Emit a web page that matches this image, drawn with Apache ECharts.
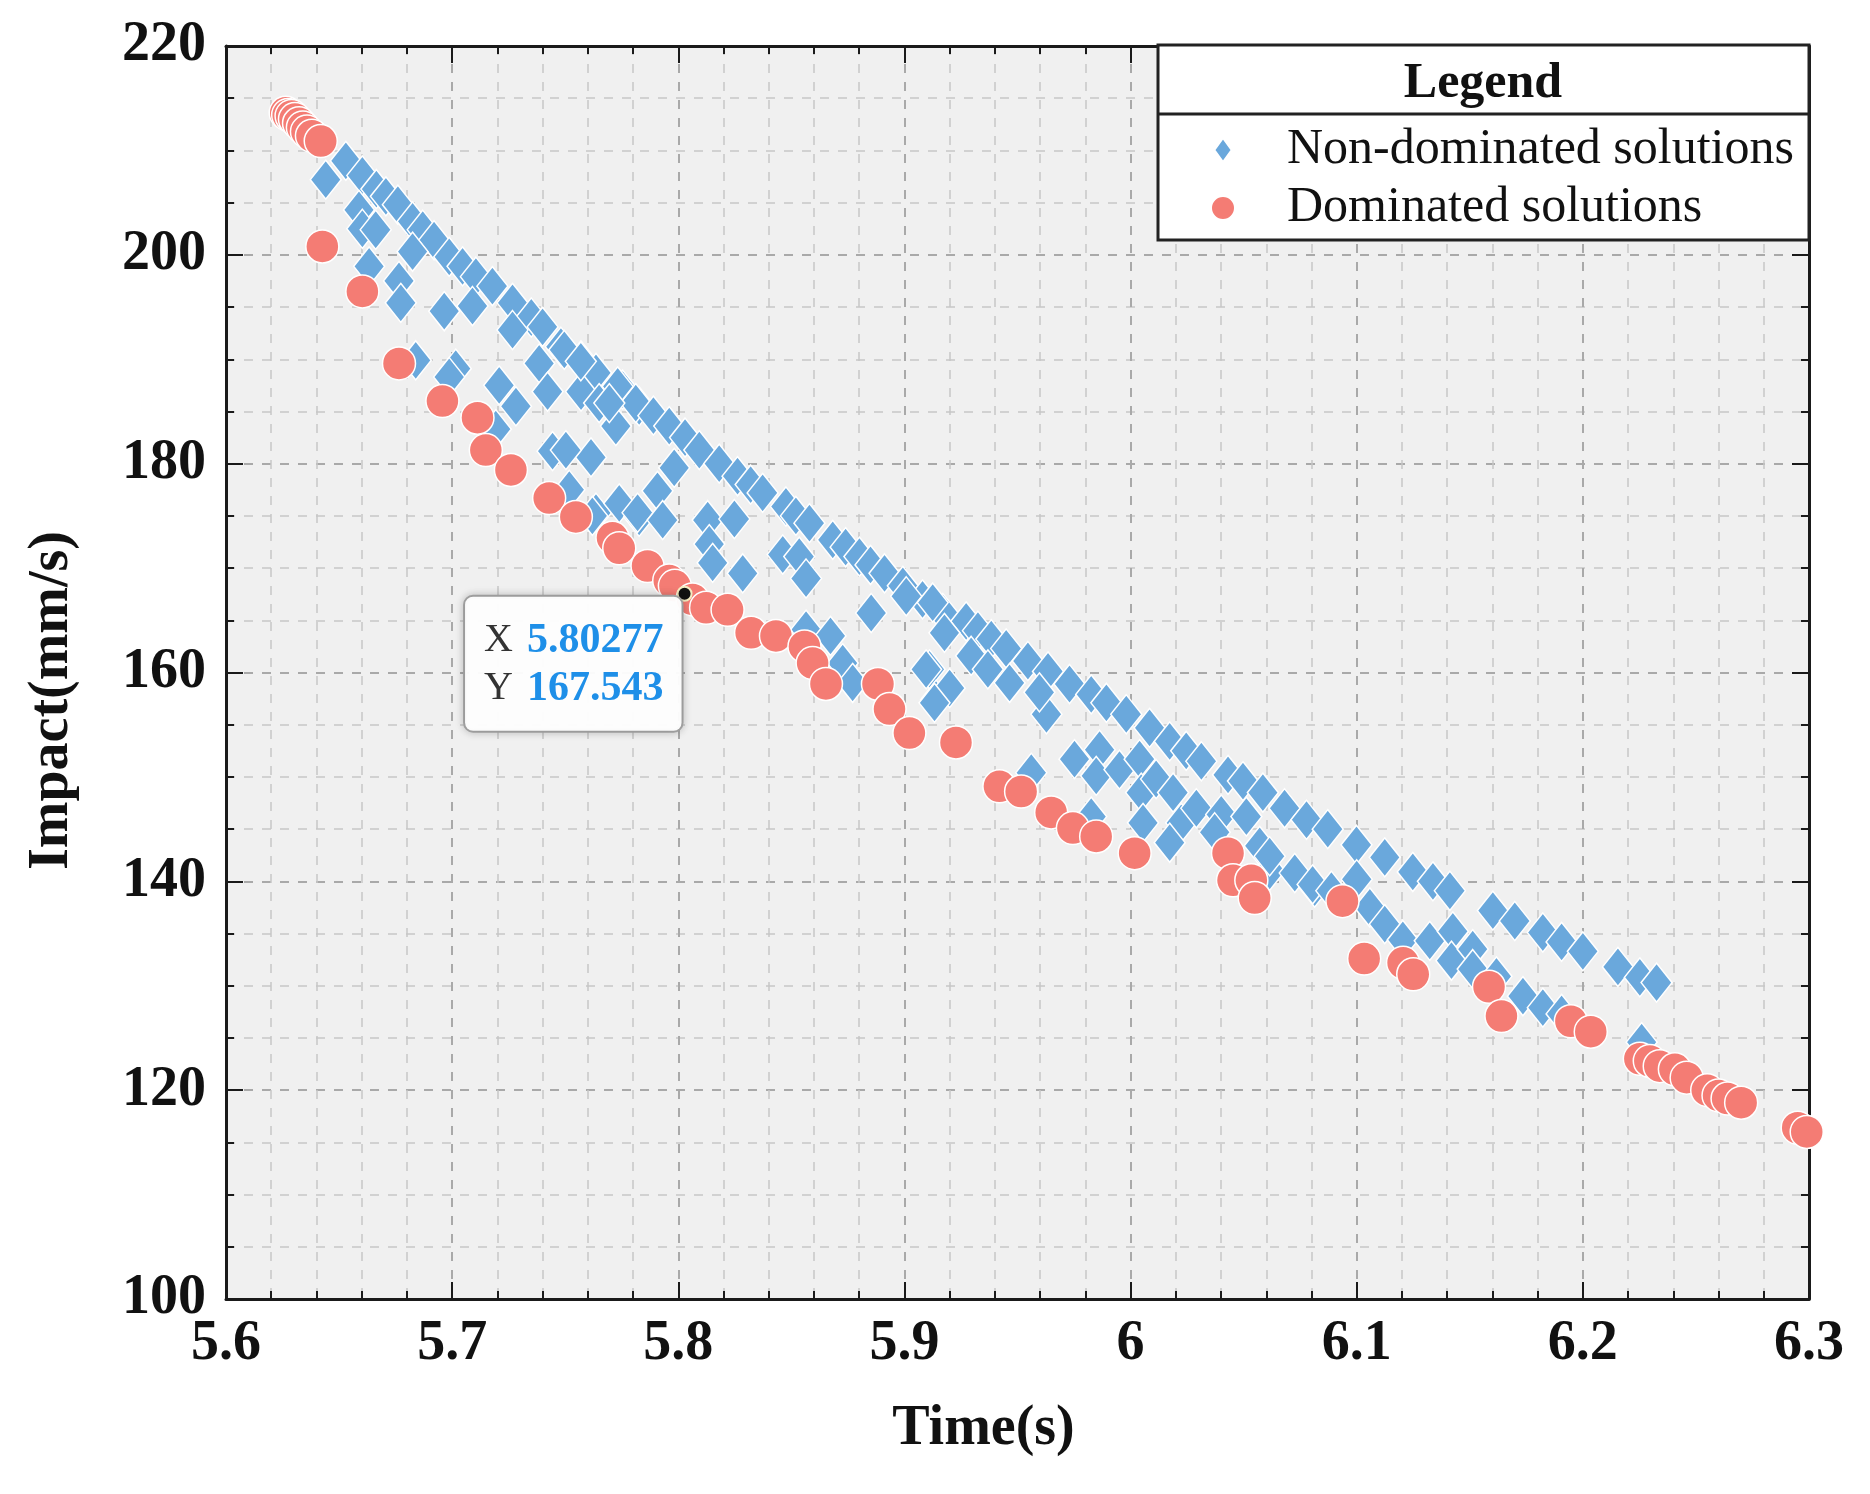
<!DOCTYPE html>
<html>
<head>
<meta charset="utf-8">
<script src="https://cdn.jsdelivr.net/npm/echarts@6/dist/echarts.min.js"></script>
<style>
html,body{margin:0;padding:0;background:#fff;}
#chart{width:1870px;height:1494px;}
</style>
</head>
<body>
<div id="chart"></div>
<script>
const xTicks = [5.6, 5.7, 5.8, 5.9, 6.0, 6.1, 6.2, 6.3];
const yTicks = [100, 120, 140, 160, 180, 200, 220];
const seriesNames = ['Non-dominated solutions', 'Dominated solutions'];
const tipPoint = [5.80277, 167.543];

const nonDominated = [
[5.6441,207.2],[5.653,209.0],[5.6603,207.6],[5.6665,206.3],[5.6707,205.6],[5.676,204.8],[5.6825,203.2],[5.687,202.4],[5.692,201.4],[5.6987,199.8],[5.7046,198.9],[5.7105,197.9],[5.7178,197.0],[5.7267,195.4],[5.735,194.0],[5.74,193.1],[5.7481,191.2],[5.757,189.9],[5.7636,188.7],[5.7754,187.1],[5.7827,185.5],
[5.6588,204.3],[5.6603,202.5],[5.6662,202.4],[5.6825,200.3],[5.6633,198.9],[5.6765,197.5],[5.6773,195.4],[5.6965,194.6],[5.709,195.1],[5.7267,192.8],[5.7385,189.6],[5.7422,186.9],[5.757,186.9],[5.765,185.8],[5.7724,183.6],[5.7812,185.8],[5.6839,189.9],[5.7016,189.1],[5.6987,188.3],[5.7208,187.5],[5.7282,185.5],[5.7193,183.3],[5.7444,181.2],[5.7614,180.6],[5.7518,177.5],[5.7636,175.3],[5.7739,176.2],[5.7827,174.9],
[5.7496,190.9],[5.7569,189.8],[5.7732,187.4],[5.789,184.6],[5.796,183.6],[5.803,182.5],[5.8093,181.3],[5.8181,180.0],[5.8262,178.8],[5.832,178.0],[5.8373,177.2],[5.8476,175.9],[5.852,175.0],[5.858,174.3],[5.8683,172.7],[5.874,172.0],[5.8801,171.1],[5.885,170.3],[5.8912,169.5],[5.8993,168.3],[5.908,167.0],[5.917,165.7],
[5.7695,185.8],[5.7503,181.3],[5.7982,179.6],[5.782,175.3],[5.7908,177.4],[5.7931,174.6],[5.813,174.6],[5.8248,174.7],[5.8137,172.3],[5.8152,170.5],[5.8285,169.5],[5.8462,171.3],[5.8535,171.1],[5.8565,169.0],[5.8853,165.7],[5.8565,164.1],[5.8673,163.5],[5.8727,160.9],[5.8771,159.0],[5.9111,160.3],[5.914,157.4],[5.762,175.0],
[5.9008,167.3],[5.9125,166.7],[5.9273,164.9],[5.9325,164.0],[5.9384,163.2],[5.945,162.3],[5.9546,161.1],[5.9635,160.1],[5.973,158.9],[5.9826,157.9],[5.9893,157.1],[5.9981,156.0],[6.0084,154.7],[6.0173,153.4],[6.0246,152.5],[6.0313,151.5],[6.0431,150.2],[6.0497,149.6],[6.0585,148.5],[6.0681,147.0],[6.0778,145.9],
[5.9177,163.8],[5.9096,160.3],[5.92,158.5],[5.9133,157.1],[5.9295,161.6],[5.9369,160.3],[5.9465,159.0],[5.9628,156.0],[5.9561,150.4],[5.9597,158.1],[5.9752,151.7],[5.9863,152.6],[5.9848,150.1],[5.9951,150.7],[6.004,151.7],[6.0047,148.5],[6.0113,149.8],[6.0055,145.6],[6.0188,148.5],[6.0224,145.6],[6.0173,143.7],[6.0291,147.0],[6.0401,146.4],[6.0512,146.2],[6.0571,143.4],[6.0615,141.0],[6.0726,140.8],[6.0814,139.4],[5.9826,146.2],[6.0372,144.7],
[6.0872,145.0],[6.0999,143.5],[6.1124,142.3],[6.1248,140.9],[6.1337,140.0],[6.1412,139.1],[6.1602,137.2],[6.1699,136.2],[6.1823,135.1],[6.1906,134.2],[6.2,133.3],[6.2155,131.8],[6.2252,130.8],[6.2326,130.3],
[6.0615,142.4],[6.0805,139.7],[6.0888,139.1],[6.1,140.2],[6.1058,137.5],[6.1124,135.9],[6.1204,134.4],[6.1323,134.3],[6.1425,135.2],[6.1419,132.4],[6.1513,133.5],[6.1513,131.6],[6.1618,130.9],[6.1735,129.0],[6.1823,127.9],[6.1906,127.3],[6.226,124.6]
];

const dominated = [
[5.6264,213.6],[5.6275,213.4],[5.629,213.3],[5.6305,213.0],[5.6323,212.6],[5.634,212.2],[5.6358,211.8],[5.638,211.4],[5.6419,210.9],[5.6426,200.8],[5.6603,196.5],[5.6765,189.6],[5.6957,186.0],[5.7112,184.4],[5.7149,181.3],[5.726,179.4],[5.7429,176.7],[5.7547,174.9],[5.7709,172.9],[5.7739,171.9],[5.7864,170.2],[5.796,168.8],[5.7985,168.3],[5.8063,167.0],[5.8123,166.2],[5.8218,166.0],[5.8322,163.8],[5.8432,163.5],[5.8558,162.5],[5.8594,160.9],[5.8653,158.9],[5.8883,158.9],[5.8934,156.5],[5.9022,154.2],[5.9228,153.3],[5.942,149.1],[5.9516,148.6],[5.9649,146.6],[5.9745,145.1],[5.9848,144.3],[6.0018,142.7],[6.0431,142.7],[6.0453,140.1],[6.0534,140.1],[6.0549,138.4],[6.0937,138.1],[6.1033,132.6],[6.1205,132.2],[6.125,131.1],[6.1585,129.9],[6.164,127.1],[6.1947,126.6],[6.2035,125.6],[6.2252,123.0],[6.2296,122.8],[6.234,122.3],[6.2407,122.0],[6.2459,121.2],[6.255,120.0],[6.26,119.5],[6.264,119.2],[6.27,118.8],[6.295,116.4],[6.299,116.0]
];

const FONT = "'Liberation Serif','Times New Roman',serif";
const chart = echarts.init(document.getElementById('chart'), null, {renderer: 'canvas'});

const axisCommonX = {
  type: 'value', min: xTicks[0], max: xTicks[xTicks.length - 1], interval: 0.1,
  axisLine: {show: true, onZero: false, lineStyle: {color: '#1a1a1a', width: 3}},
  axisTick: {show: true, inside: true, length: 17, lineStyle: {color: '#1a1a1a', width: 2}},
  minorTick: {show: true, splitNumber: 5, length: 8, lineStyle: {color: '#1a1a1a', width: 2}}
};
const axisCommonY = {
  type: 'value', min: yTicks[0], max: yTicks[yTicks.length - 1], interval: 20,
  axisLine: {show: true, onZero: false, lineStyle: {color: '#1a1a1a', width: 3}},
  axisTick: {show: true, inside: true, length: 17, lineStyle: {color: '#1a1a1a', width: 2}},
  minorTick: {show: true, splitNumber: 4, length: 8, lineStyle: {color: '#1a1a1a', width: 2}}
};

const option = {
  backgroundColor: '#ffffff',
  animation: false,
  grid: {left: 226, right: 61, top: 46, bottom: 195, show: true, backgroundColor: '#f0f0f0', borderWidth: 0},
  xAxis: [
    Object.assign({}, axisCommonX, {
      position: 'bottom',
      name: 'Time(s)', nameLocation: 'middle', nameGap: 103,
      nameTextStyle: {fontFamily: FONT, fontSize: 56, fontWeight: 'bold', color: '#111', padding: [0, 68, 0, 0]},
      axisLabel: {show: true, margin: 18, fontFamily: FONT, fontSize: 56, fontWeight: 'bold', color: '#111',
        formatter: v => String(Math.round(v * 10) / 10)},
      splitLine: {show: true, lineStyle: {color: '#a9a9a9', width: 2, type: [9, 9]}},
      minorSplitLine: {show: true, lineStyle: {color: '#c6c6c6', width: 1.5, type: [9, 9]}}
    }),
    Object.assign({}, axisCommonX, {
      position: 'top', axisLabel: {show: false}, splitLine: {show: false}, minorSplitLine: {show: false}
    })
  ],
  yAxis: [
    Object.assign({}, axisCommonY, {
      position: 'left',
      name: 'Impact(mm/s)', nameLocation: 'middle', nameGap: 145,
      nameTextStyle: {fontFamily: FONT, fontSize: 56, fontWeight: 'bold', color: '#111', padding: [0, 56, 0, 0]},
      axisLabel: {show: true, margin: 20, fontFamily: FONT, fontSize: 56, fontWeight: 'bold', color: '#111'},
      splitLine: {show: true, lineStyle: {color: '#a9a9a9', width: 2, type: [9, 9]}},
      minorSplitLine: {show: true, lineStyle: {color: '#c6c6c6', width: 1.5, type: [9, 9]}}
    }),
    Object.assign({}, axisCommonY, {
      position: 'right', axisLabel: {show: false}, splitLine: {show: false}, minorSplitLine: {show: false}
    })
  ],
  legend: {
    orient: 'vertical', left: 1210, top: 125, padding: 0, z: 6,
    itemWidth: 118, itemHeight: 24, itemGap: 8,
    textStyle: {fontFamily: FONT, fontSize: 50, color: '#111'},
    data: [
      {name: seriesNames[0], icon: 'path://M9,0L18,12.5L9,25L0,12.5Z'},
      {name: seriesNames[1], icon: 'circle'}
    ]
  },
  graphic: [
    {type: 'rect', z: 3, shape: {x: 1158, y: 45, width: 651, height: 195},
      style: {fill: '#ffffff', stroke: '#222', lineWidth: 3}},
    {type: 'line', z: 4, shape: {x1: 1158, y1: 114, x2: 1809, y2: 114},
      style: {stroke: '#222', lineWidth: 3}},
    {type: 'text', z: 4, x: 1483, y: 84,
      style: {text: 'Legend', fontFamily: FONT, fontSize: 50, fontWeight: 'bold', fill: '#111', align: 'center', verticalAlign: 'middle'}}
  ],
  series: [
    {
      name: seriesNames[0], type: 'scatter', xAxisIndex: 0, yAxisIndex: 0,
      symbol: 'diamond', symbolSize: [31, 39],
      itemStyle: {color: '#6aa8dc', opacity: 1, borderColor: '#ffffff', borderWidth: 1.5},
      data: nonDominated, z: 2
    },
    {
      name: seriesNames[1], type: 'scatter', xAxisIndex: 0, yAxisIndex: 0,
      symbol: 'circle', symbolSize: 33,
      itemStyle: {color: '#f47c74', opacity: 1, borderColor: '#ffffff', borderWidth: 1.5},
      data: dominated, z: 3
    },
    {
      name: 'tip', type: 'scatter', xAxisIndex: 0, yAxisIndex: 0,
      symbol: 'circle', symbolSize: 14, z: 5,
      itemStyle: {color: '#111', opacity: 1, borderColor: '#f3ecc0', borderWidth: 2},
      data: [tipPoint],
      label: {
        show: true, position: [5, 11], align: 'right', verticalAlign: 'top',
        backgroundColor: 'rgba(255,255,255,0.96)', borderColor: '#a8a8a8', borderWidth: 2, borderRadius: 8,
        shadowColor: 'rgba(0,0,0,0.18)', shadowBlur: 8,
        padding: [20, 18, 18, 19], lineHeight: 48,
        formatter: p => '{k|X}{v|' + p.value[0] + '}\n{k|Y}{v|' + p.value[1] + '}',
        rich: {
          k: {fontFamily: FONT, fontSize: 40, color: '#333', lineHeight: 48, width: 43, align: 'left'},
          v: {fontFamily: FONT, fontSize: 42, fontWeight: 'bold', color: '#1e8fe8', lineHeight: 48, align: 'left'}
        }
      }
    }
  ]
};
chart.setOption(option);
</script>
</body>
</html>
